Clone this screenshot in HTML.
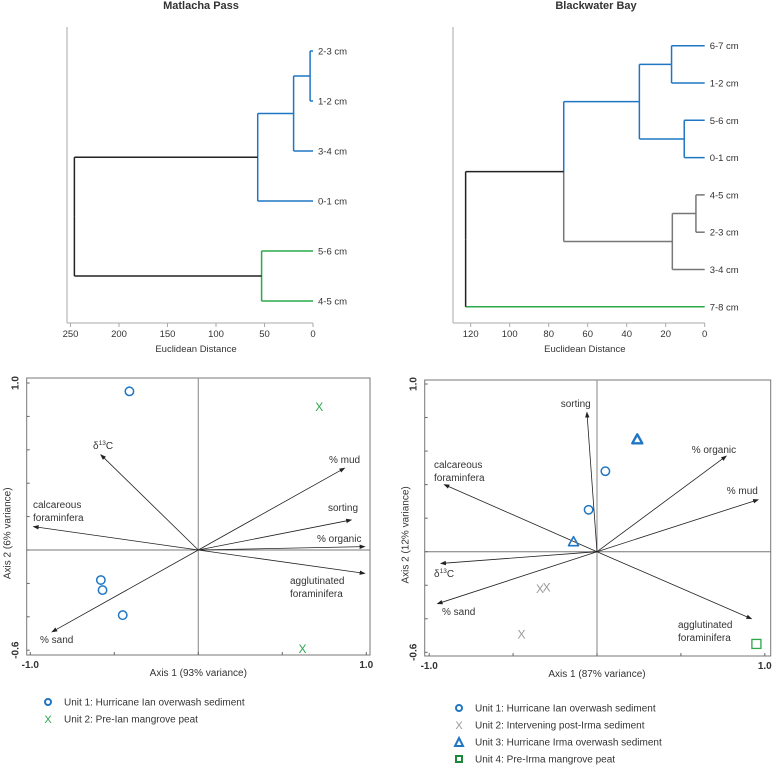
<!DOCTYPE html>
<html><head><meta charset="utf-8"><style>
html,body{margin:0;padding:0;background:#fff}
svg{display:block;font-family:"Liberation Sans",Arial,sans-serif}
text{fill:#333}
</style></head><body>
<svg id="fig" width="778" height="767" viewBox="0 0 778 767" xmlns="http://www.w3.org/2000/svg">
<text x="201" y="9" font-size="11" font-weight="bold" text-anchor="middle">Matlacha Pass</text>
<text x="596" y="9" font-size="11" font-weight="bold" text-anchor="middle">Blackwater Bay</text>
<g id="d1"></g>
<g id="d2"></g>
<g id="b1"></g>
<g id="b2"></g>
<g font-size="10">
 <circle cx="48" cy="702" r="3" fill="none" stroke="#1f77c4" stroke-width="2"/>
 <text x="64" y="705.5">Unit 1: Hurricane Ian overwash sediment</text>
 <text x="48" y="723" font-size="11" text-anchor="middle" style="fill:#2aa84a">X</text>
 <text x="64" y="722.5">Unit 2: Pre-Ian mangrove peat</text>
</g>
<g font-size="10">
 <circle cx="459" cy="708" r="3" fill="none" stroke="#1f77c4" stroke-width="2"/>
 <text x="475" y="711.5">Unit 1: Hurricane Ian overwash sediment</text>
 <text x="459" y="729" text-anchor="middle" font-size="11" style="fill:#999">X</text>
 <text x="475" y="728.5">Unit 2: Intervening post-Irma sediment</text>
 <path d="M459,738 L463,746 L455,746 Z" fill="none" stroke="#1f77c4" stroke-width="2"/>
 <text x="475" y="745.5">Unit 3: Hurricane Irma overwash sediment</text>
 <rect x="456" y="756" width="6" height="6" fill="none" stroke="#1a8a3a" stroke-width="2"/>
 <text x="475" y="762.5">Unit 4: Pre-Irma mangrove peat</text>
</g>
</svg>
<script>
const NS="http://www.w3.org/2000/svg";
function mk(p,tag,a){const e=document.createElementNS(NS,tag);for(const k in a)e.setAttribute(k,a[k]);p.appendChild(e);return e;}
// ---- Dendrogram data ----
const d1Leaves=["2-3 cm","1-2 cm","3-4 cm","0-1 cm","5-6 cm","4-5 cm"];
const d1Ticks=[250,200,150,100,50,0];
const d1Heights=[3,20,57,53,246];
// merges: [childA, childB, colorA, colorB, verticalColor]
const d1Merges=[[0,1,"#1f77c4","#1f77c4",null],["m0",2,"#1f77c4","#1f77c4",null],["m1",3,"#1f77c4","#1f77c4",null],[4,5,"#2aa84a","#2aa84a",null],["m2","m3","#222","#222",null]];
const d2Leaves=["6-7 cm","1-2 cm","5-6 cm","0-1 cm","4-5 cm","2-3 cm","3-4 cm","7-8 cm"];
const d2Ticks=[120,100,80,60,40,20,0];
const d2Heights=[17,10.5,33.5,4.5,16.6,72.3,122.6];
const d2Merges=[[0,1,"#1f77c4","#1f77c4",null],[2,3,"#1f77c4","#1f77c4",null],["m0","m1","#1f77c4","#1f77c4",null],[4,5,"#777","#777",null],["m3",6,"#777","#777",null],["m2","m4","#1f77c4","#777",null],["m5",7,"#222","#2aa84a","#222"]];

function dendro(g,leaves,ticks,heights,merges,o){
  const sx=v=>o.x0-v*o.k;
  const sy=i=>o.y0+i*o.dy;
  mk(g,"line",{x1:o.ax,y1:27,x2:o.ax,y2:323,stroke:"#aaa","stroke-width":1});
  mk(g,"line",{x1:o.ax,y1:323,x2:o.x0,y2:323,stroke:"#aaa","stroke-width":1});
  ticks.forEach(t=>{
    const tk=mk(g,"line",{x1:sx(t),y1:323,x2:sx(t),y2:327,stroke:"#aaa"});
    
    
    const tl=mk(g,"text",{x:sx(t),y:337,"font-size":9.5,"text-anchor":"middle"});tl.textContent=t;
    
    
  });
  const xl=mk(g,"text",{x:(o.ax+o.x0)/2+6,y:352,"font-size":9.5,"text-anchor":"middle"});xl.textContent="Euclidean Distance";
  
  
  const nodes=leaves.map((l,i)=>({y:sy(i),h:0}));
  leaves.forEach((l,i)=>{
    const t=mk(g,"text",{x:o.x0+5,y:sy(i)+3.5,"font-size":9.5});t.textContent=l;
    
    
  });
  const m=[];
  const get=c=>typeof c==="string"?m[+c.slice(1)]:nodes[c];
  merges.forEach(([a,b,colA,colB,colV],j)=>{
    const h=heights[j];
    const A=get(a),B=get(b);
    const mid=(A.y+B.y)/2;
    const pa=mk(g,"path",{d:`M${sx(A.h)},${A.y}H${sx(h)}`,stroke:colA,"stroke-width":1.5,fill:"none"});
    
    
    const pb=mk(g,"path",{d:`M${sx(B.h)},${B.y}H${sx(h)}`,stroke:colB,"stroke-width":1.5,fill:"none"});
    
    
    const v1=mk(g,"path",{d:`M${sx(h)},${A.y}V${mid}`,stroke:colV||colA,"stroke-width":1.5,fill:"none"});
    
    
    const v2=mk(g,"path",{d:`M${sx(h)},${mid}V${B.y}`,stroke:colV||colB,"stroke-width":1.5,fill:"none"});
    
    
    m.push({y:mid,h:h});
  });
}
dendro(document.getElementById("d1"),d1Leaves,d1Ticks,d1Heights,d1Merges,{ax:67,x0:313,k:0.97,y0:51,dy:50});
dendro(document.getElementById("d2"),d2Leaves,d2Ticks,d2Heights,d2Merges,{ax:453,x0:704.7,k:1.95,y0:45.7,dy:37.3});

// ---- Biplot data ----
const b1CircX=[-0.41,-0.58,-0.57,-0.45], b1CircY=[0.95,-0.18,-0.24,-0.39];
const b1XX=[0.72,0.62], b1XY=[0.86,-0.59];
const b1VecNames=["δ13C","% mud","sorting","% organic","agglutinated foraminifera","calcareous foraminfera","% sand"];
const b1VecX=[-0.58,0.87,0.91,0.99,0.99,-0.98,-0.87];
const b1VecY=[0.57,0.49,0.18,0.02,-0.14,0.14,-0.49];
const b2CircX=[0.05,-0.05], b2CircY=[0.48,0.25];
const b2TriX=[0.24,-0.14], b2TriY=[0.67,0.06];
const b2XX=[-0.34,-0.30,-0.45], b2XY=[-0.22,-0.21,-0.49];
const b2SqX=[0.95], b2SqY=[-0.55];
const b2VecNames=["sorting","% organic","% mud","agglutinated foraminifera","calcareous foraminfera","δ13C","% sand"];
const b2VecX=[-0.06,0.77,0.96,0.92,-0.91,-0.93,-0.95];
const b2VecY=[0.83,0.57,0.31,-0.40,0.40,-0.07,-0.31];
const yTicks=[1.0,0.8,0.6,0.4,0.2,0,-0.2,-0.4,-0.6];
const xTicks=[-1.0,-0.5,0,0.5,1.0];

function biplot(g,o,vecs,labels,axisX,axisY){
  const sx=v=>o.cx+v*o.k, sy=v=>o.cy-v*o.ky;
  const defs=mk(g,"defs",{});
  const mkr=mk(defs,"marker",{id:"ar"+o.id,markerWidth:6,markerHeight:6,refX:5,refY:3,orient:"auto",markerUnits:"userSpaceOnUse"});
  mk(mkr,"path",{d:"M0,0.8L6,3L0,5.2Z",fill:"#222"});
  const box=mk(g,"rect",{x:o.l,y:o.t,width:o.r-o.l,height:o.b-o.t,fill:"none",stroke:"#777","stroke-width":1});
  
  
  mk(g,"line",{x1:sx(0),y1:o.t,x2:sx(0),y2:o.b,stroke:"#999","stroke-width":1.2});
  mk(g,"line",{x1:o.l,y1:sy(0),x2:o.r,y2:sy(0),stroke:"#777","stroke-width":1});
  yTicks.forEach(t=>{mk(g,"line",{x1:o.l,y1:sy(t),x2:o.l+3,y2:sy(t),stroke:"#666"});});
  xTicks.forEach(t=>{mk(g,"line",{x1:sx(t),y1:o.b,x2:sx(t),y2:o.b-3,stroke:"#666"});});
  [[1.0,"1.0"],[-0.6,"-0.6"]].forEach(([v,s])=>{
    const t=mk(g,"text",{x:0,y:0,"font-size":10,"font-weight":"bold","text-anchor":"middle",transform:`translate(${o.l-8},${sy(v)}) rotate(-90)`});t.textContent=s;
    
    
  });
  [[-1.0,"-1.0"],[1.0,"1.0"]].forEach(([v,s])=>{
    const t=mk(g,"text",{x:sx(v),y:o.b+13,"font-size":10,"font-weight":"bold","text-anchor":"middle"});t.textContent=s;
    
    
  });
  const xa=mk(g,"text",{x:sx(0),y:o.b+21,"font-size":10,"text-anchor":"middle"});xa.textContent=axisX;
  
  
  const ya=mk(g,"text",{x:0,y:0,"font-size":10,"text-anchor":"middle",transform:`translate(${o.l-16},${sy(0.1)}) rotate(-90)`});ya.textContent=axisY;
  
  
  vecs.names.forEach((n,i)=>{
    const ln=mk(g,"line",{x1:sx(0),y1:sy(0),x2:sx(vecs.x[i]),y2:sy(vecs.y[i]),stroke:"#222","stroke-width":0.8,"marker-end":`url(#ar${o.id})`});
    
    
    const L=labels[i];
    const t=mk(g,"text",{x:L[0],y:L[1],"font-size":10,"text-anchor":L[2]||"start"});
    
    
    const parts=n.split(" ");
    if(n.startsWith("δ13C")){t.innerHTML='δ<tspan font-size="6.5" dy="-4">13</tspan><tspan dy="4">C</tspan>';}
    else if(parts.length===2&&parts[1].startsWith("foram")){
      const a=mk(t,"tspan",{x:L[0]});a.textContent=parts[0];
      const b=mk(t,"tspan",{x:L[0],dy:13});b.textContent=parts[1];
    } else t.textContent=n;
  });
  return {sx,sy};
}
function circles(g,s,X,Y){X.forEach((x,i)=>{const c=mk(g,"circle",{cx:s.sx(x),cy:s.sy(Y[i]),r:4.2,fill:"none",stroke:"#1f77c4","stroke-width":1.5});
  
  });}
function crosses(g,s,X,Y,col,name){X.forEach((x,i)=>{const t=mk(g,"text",{x:s.sx(x),y:s.sy(Y[i])+4.5,"font-size":12,"text-anchor":"middle",style:"fill:"+col});t.textContent="X";
  
  });}

const g1=document.getElementById("b1");
const s1=biplot(g1,{id:1,l:26.7,r:370,t:378,b:655,cx:198.3,cy:550,k:168,ky:167},
 {names:b1VecNames,x:b1VecX,y:b1VecY},
 [[93,449],[329,463],[328,511],[317,542],[290,584],[33,508],[40,643]],
 "Axis 1 (93% variance)","Axis 2 (6% variance)");
circles(g1,s1,b1CircX,b1CircY);
crosses(g1,s1,b1XX,b1XY,"#2aa84a","point-unit2");

const g2=document.getElementById("b2");
const s2=biplot(g2,{id:2,l:424.7,r:770.7,t:380,b:656,cx:597,cy:551.7,k:167.8,ky:167.7},
 {names:b2VecNames,x:b2VecX,y:b2VecY},
 [[560.7,407],[691.7,453],[726.7,494],[678,628],[434,468],[434,577],[442,615]],
 "Axis 1 (87% variance)","Axis 2 (12% variance)");
circles(g2,s2,b2CircX,b2CircY);
b2TriX.forEach((x,i)=>{const cx=s2.sx(x),cy=s2.sy(b2TriY[i]);
  const p=mk(g2,"path",{d:`M${cx},${cy-5}L${cx+5},${cy+4}L${cx-5},${cy+4}Z`,fill:"none",stroke:"#1f77c4","stroke-width":i===0?2.4:1.6,"stroke-linejoin":"round"});
  
  });
crosses(g2,s2,b2XX,b2XY,"#999","point-unit2");
b2SqX.forEach((x,i)=>{const r=mk(g2,"rect",{x:s2.sx(x)-4.5,y:s2.sy(b2SqY[i])-4.5,width:9,height:9,fill:"none",stroke:"#2aa84a","stroke-width":1.3});
  
  });
</script>
</body></html>
